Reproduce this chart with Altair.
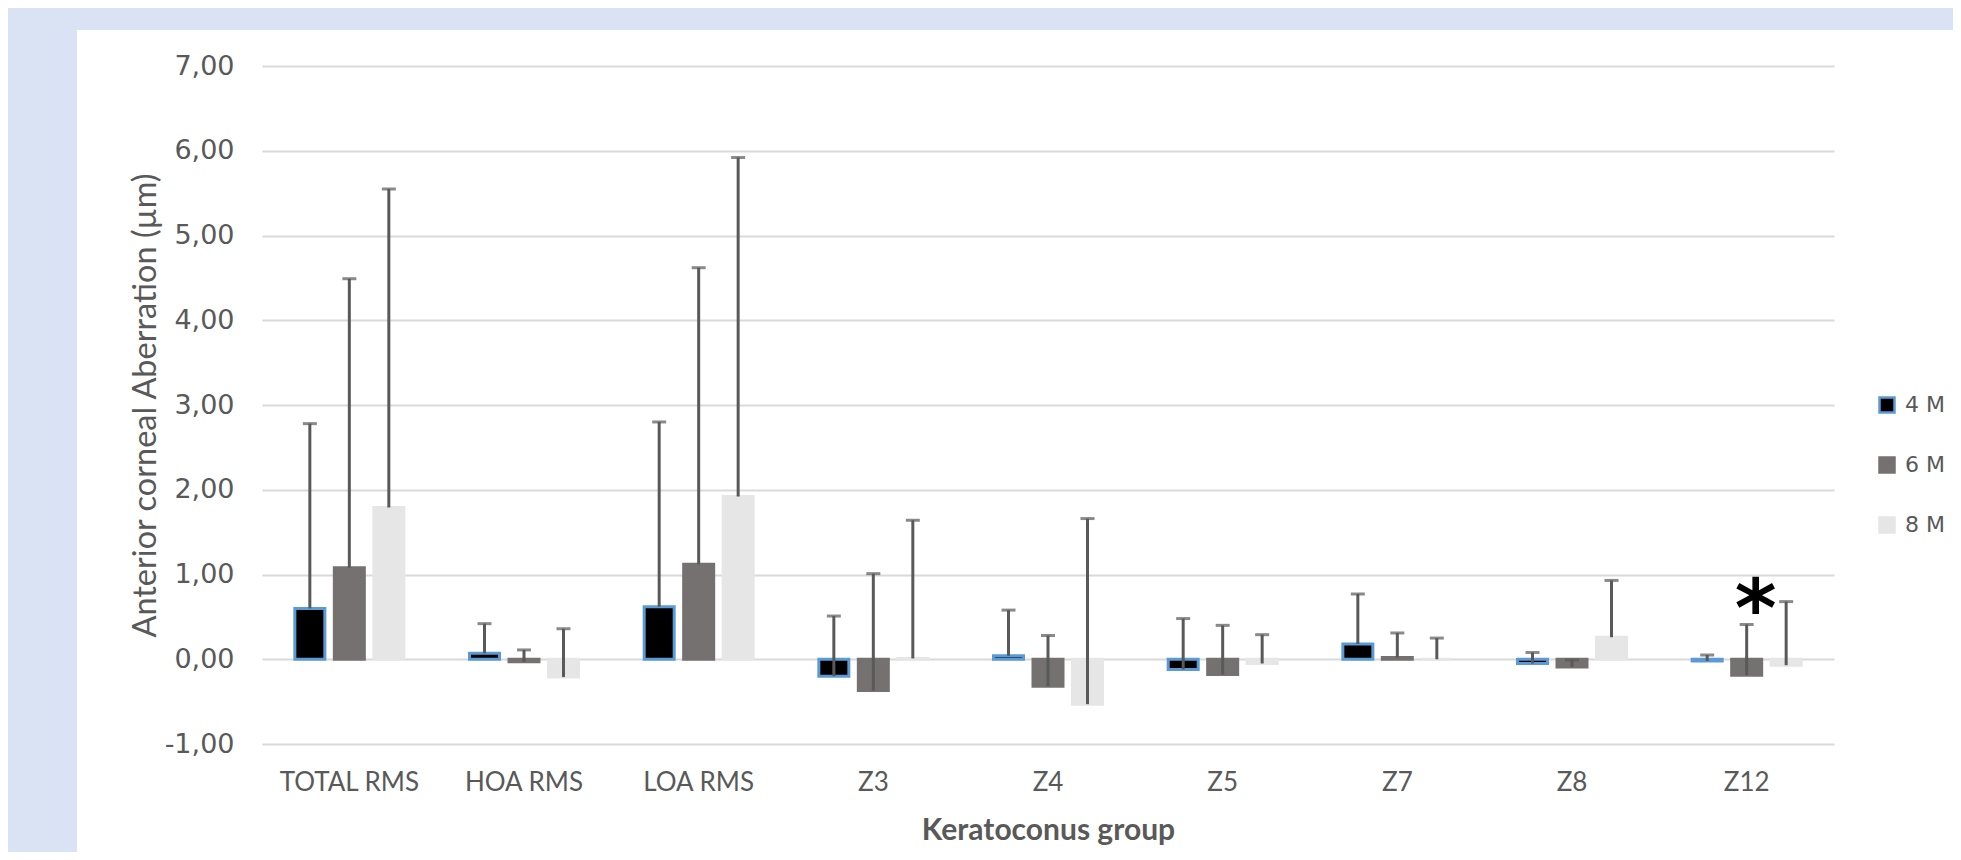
import altair as alt
import pandas as pd

categories = ["TOTAL RMS", "HOA RMS", "LOA RMS", "Z3", "Z4", "Z5", "Z7", "Z8", "Z12"]
groups = ["4 M", "6 M", "8 M"]

mean_4m = [0.60, 0.07, 0.62, -0.20, 0.04, -0.12, 0.18, -0.05, -0.02]
mean_6m = [1.08, -0.03, 1.12, -0.37, -0.32, -0.18, 0.02, -0.09, -0.19]
mean_8m = [1.79, -0.21, 1.92, 0.01, -0.53, -0.05, 0.00, 0.26, -0.07]

sd_4m = [2.18, 0.35, 2.18, 0.71, 0.54, 0.60, 0.59, 0.13, 0.07]
sd_6m = [3.41, 0.14, 3.50, 1.38, 0.60, 0.58, 0.29, 0.08, 0.60]
sd_8m = [3.76, 0.57, 4.00, 1.63, 2.19, 0.34, 0.25, 0.67, 0.75]

star_category = "Z12"
star_group = "6 M"
star_y = 0.28

rows = []
for g, means, sds in zip(groups, [mean_4m, mean_6m, mean_8m], [sd_4m, sd_6m, sd_8m]):
    for c, m, s in zip(categories, means, sds):
        rows.append({"cat": c, "grp": g, "mean": m, "top": round(m + s, 3)})
df = pd.DataFrame(rows)

TEXT = "#595959"
W, H = 1572, 678
PAD = {"left": 254, "top": 58, "right": 119, "bottom": 108}

x_enc = alt.X(
    "cat:N", sort=categories,
    scale=alt.Scale(paddingInner=0.376, paddingOuter=0.188),
    axis=alt.Axis(
        labelAngle=0, domain=False, ticks=False, grid=False,
        labelFont="Lato", labelFontSize=26, labelColor=TEXT, labelPadding=25,
        title="Keratoconus group", titleFont="Lato", titleFontWeight="bold",
        titleFontSize=30, titleColor=TEXT, titleY=86, titleBaseline="middle",
    ),
)
xo_enc = alt.XOffset("grp:N", sort=groups, scale=alt.Scale(paddingInner=0.24, paddingOuter=0))
y_scale = alt.Scale(domain=[-1, 7], nice=False, zero=False)

bars = alt.Chart(df).mark_bar(strokeWidth=3).encode(
    x=x_enc,
    xOffset=xo_enc,
    y=alt.Y(
        "mean:Q", scale=y_scale,
        axis=alt.Axis(
            values=list(range(-1, 8)),
            labelExpr="replace(replace(format(datum.value, '.2f'), '.', ','), '\u2212', '-')",
            grid=True, gridColor="#d9d9d9", gridWidth=2, domain=False, ticks=False,
            labelFont="DejaVu Sans", labelFontSize=27, labelColor=TEXT, labelPadding=28,
            title="Anterior corneal Aberration (\u00b5m)", titleFont="Lato",
            titleFontWeight="normal", titleFontSize=32.5, titleColor=TEXT,
            titleAngle=-90, titleX=-117, titleY=H / 2, titleAlign="center", titleBaseline="middle",
        ),
    ),
    y2=alt.Y2(datum=0),
    fill=alt.Fill(
        "grp:N", sort=groups,
        scale=alt.Scale(domain=groups, range=["#000000", "#767171", "#e7e6e6"]),
        legend=alt.Legend(
            title=None, orient="none", legendX=1614, legendY=328,
            symbolType="square", symbolSize=225, symbolStrokeWidth=2.5,
            labelFont="DejaVu Sans", labelFontSize=22, labelColor=TEXT,
            labelOffset=7, rowPadding=34, labelLimit=300,
        ),
    ),
    stroke=alt.Stroke(
        "grp:N", sort=groups,
        scale=alt.Scale(domain=groups, range=["#5b9bd5", "#767171", "#e7e6e6"]),
        legend=None,
    ),
)

err = alt.Chart(df).mark_rule(color="#595959", strokeWidth=3).encode(
    x=alt.X("cat:N", sort=categories),
    xOffset=xo_enc,
    y=alt.Y("mean:Q", scale=y_scale),
    y2="top:Q",
)

caps = alt.Chart(df).mark_tick(color="#595959", thickness=3, size=14, orient="horizontal").encode(
    x=alt.X("cat:N", sort=categories),
    xOffset=xo_enc,
    y=alt.Y("top:Q", scale=y_scale),
)

star = alt.Chart(pd.DataFrame([{"cat": star_category, "grp": star_group, "v": star_y}])).mark_text(
    text="*", font="DejaVu Sans", fontWeight="bold", fontSize=80, color="#000000",
    baseline="alphabetic", dx=9,
).encode(
    x=alt.X("cat:N", sort=categories),
    xOffset=xo_enc,
    y=alt.Y("v:Q", scale=y_scale),
)

blue = "#dae3f3"
strip_left = alt.Chart(alt.Data(values=[{}])).mark_rect(color=blue).encode(
    x=alt.value(-PAD["left"]), x2=alt.value(-185), y=alt.value(-PAD["top"]), y2=alt.value(H + PAD["bottom"])
)
strip_top = alt.Chart(alt.Data(values=[{}])).mark_rect(color=blue).encode(
    x=alt.value(-PAD["left"]), x2=alt.value(W + PAD["right"]), y=alt.value(-PAD["top"]), y2=alt.value(-36)
)

chart = alt.layer(strip_left, strip_top, bars, err, caps, star).properties(
    width=W, height=H,
    autosize=alt.AutoSizeParams(type="none"),
    padding=PAD,
    background="#ffffff",
).configure_view(stroke=None)

chart.save("out.html", embed_options={"renderer": "svg", "actions": False})
